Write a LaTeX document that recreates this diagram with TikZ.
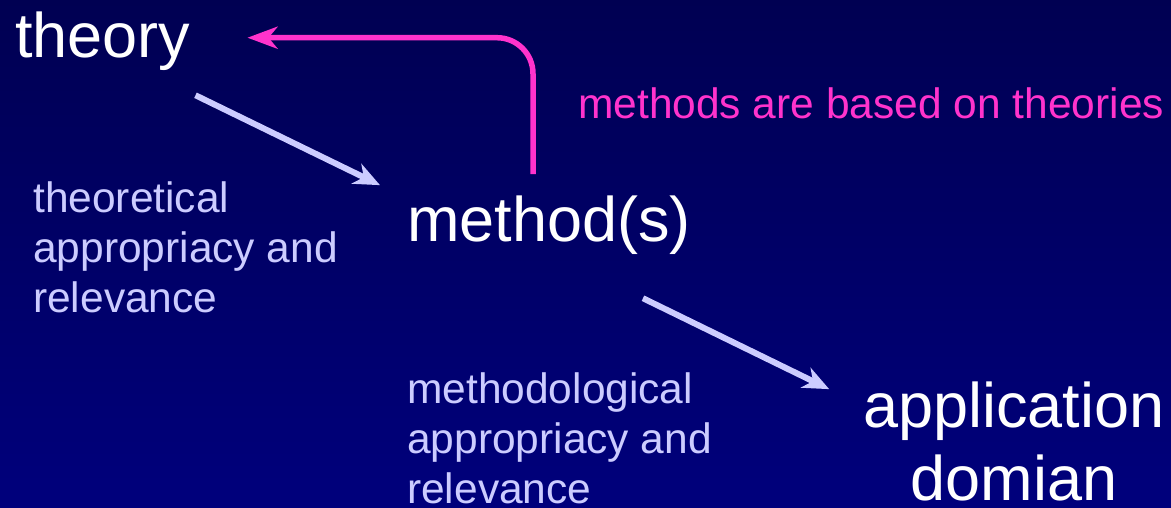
\documentclass[tikz,border=0pt]{standalone}
\usepackage{fontspec}
\setmainfont{Liberation Sans}
\usetikzlibrary{arrows.meta,positioning,calc}
\definecolor{navytop}{RGB}{0,0,82}
\definecolor{navybot}{RGB}{0,0,124}
\definecolor{lilac}{RGB}{204,204,255}
\definecolor{hotpink}{RGB}{255,51,204}
\tikzset{big/.style={inner sep=0, text=white, font=\fontsize{63}{73}\selectfont}}
\tikzset{note/.style={inner sep=0, text=lilac, align=left, font=\fontsize{42.5}{50}\selectfont}}
\tikzset{arr/.style={draw=lilac, line width=6pt, -{Stealth[length=26pt, width=22pt, inset=8pt]}}}
\tikzset{basedarr/.style={draw=hotpink, line width=5.5pt, rounded corners=36pt, -{Stealth[length=30pt, width=22pt, inset=9pt]}}}

\begin{document}
\begin{tikzpicture}[x=1pt, y=-1pt]
    \shade[top color=navytop, bottom color=navybot] (0,0) rectangle (1171,508);
    \useasboundingbox (0,0) rectangle (1171,508);

    \node[big, anchor=base west] (theory) at (15,58) {theory};
    \node[big, anchor=base west] (method) at (407,241) {method(s)};
    % multi-line nodes: base is the last line
    \node[big, align=center, anchor=base] (domain) at (1014,500) {application\\domian};

    \node[note, anchor=base west, text=hotpink] (based) at (578,119) {methods are based on theories};
    \node[note, anchor=base west] (theoapp) at (33,312) {theoretical\\appropriacy and\\relevance};
    \node[note, anchor=base west] (methapp) at (407,503) {methodological\\appropriacy and\\relevance};

    \draw[arr] ([shift={(5,24)}]theory.south east) -- ([shift={(-27,-10)}]method.north west);
    \draw[arr] ([shift={(-48,44)}]method.south east) -- ([shift={(-34,8)}]domain.north west);
    % methods lean on theories
    \draw[basedarr] ([shift={(-16,-21)}]method.north) |- ([shift={(57,-4)}]theory.east);
\end{tikzpicture}
\end{document}
